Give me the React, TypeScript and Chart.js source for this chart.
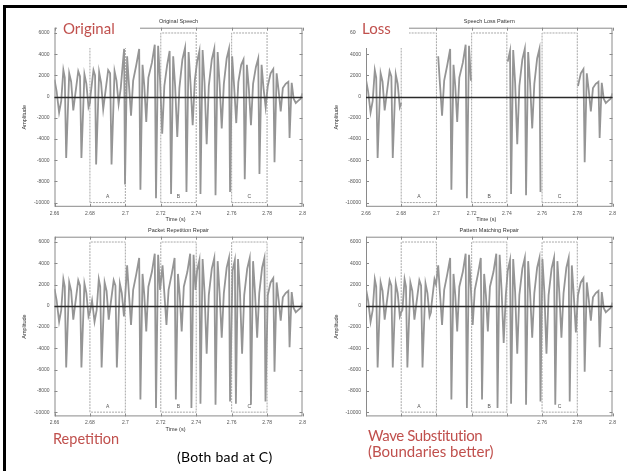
import React, { useEffect, useRef } from "react";
import { Chart, registerables } from "chart.js";
Chart.register(...registerables);

// ---------- data ----------
const xTickValues = [2.66, 2.68, 2.7, 2.72, 2.74, 2.76, 2.78, 2.8];
const xTickLabels = ["2.66", "2.68", "2.7", "2.72", "2.74", "2.76", "2.78", "2.8"];
const yTickValues = [-10000, -8000, -6000, -4000, -2000, 0, 2000, 4000, 6000];
const yTickLabels = ["-10000", "-8000", "-6000", "-4000", "-2000", "0", "2000", "4000", "6000"];

const waveTime = [
  2.66, 2.6612, 2.6626, 2.6638, 2.665, 2.6658,
  2.6666, 2.6683, 2.6694, 2.6706, 2.6718, 2.6734, 2.6744,
  2.6752, 2.6769, 2.678, 2.6792, 2.68, 2.6804, 2.682, 2.6829,
  2.6835, 2.6852, 2.6863, 2.6875, 2.6887, 2.6903, 2.6914,
  2.6922, 2.6939, 2.695, 2.6962, 2.6974, 2.6985, 2.6993,
  2.6998, 2.701, 2.702, 2.7032, 2.7044, 2.7062, 2.7078,
  2.7085, 2.7097, 2.7107, 2.7118, 2.713, 2.715, 2.7166,
  2.7173, 2.7185, 2.7196, 2.7208, 2.722, 2.7236, 2.725,
  2.7258, 2.727, 2.7281, 2.7293, 2.7305, 2.7322, 2.7337,
  2.7345, 2.7357, 2.7368, 2.738, 2.7392, 2.7405, 2.7418,
  2.7424, 2.7436, 2.7447, 2.7459, 2.7471, 2.7488, 2.7502,
  2.7509, 2.7521, 2.7532, 2.7544, 2.7556, 2.7572, 2.7585,
  2.7591, 2.7603, 2.7614, 2.7626, 2.7638, 2.7654, 2.7667,
  2.7674, 2.7686, 2.7697, 2.7709, 2.7721, 2.7737, 2.775,
  2.7757, 2.7769, 2.778, 2.7792, 2.7804, 2.782, 2.7835,
  2.7842, 2.7854, 2.7865, 2.7877, 2.7889, 2.7905, 2.792,
  2.7927, 2.7939, 2.795, 2.7962, 2.7975, 2.799, 2.8,
];
const waveAmp = [
  1600, 500, -1500, -400, 2500, 1800,
  -5800, 2200, 1400, -1300, 300, 2400, 1900,
  -5800, 2100, 1200, -1000, -600, 200, 2500, 2000,
  -6400, 2300, 1300, -1200, 400, 2500, 2200,
  -6400, 2400, 1500, -700, 800, 3000, 4500,
  -8300, 3800, 1200, -1800, 1500, 3000, 4500,
  -8800, 3000, 1000, -2400, 1800, 3200, 4900,
  -9600, 4800, 1500, -3500, 1000, 3000, 4300,
  -9200, 3800, 1000, -3800, 800, 3500, 4600,
  -9000, 4200, 1200, -2700, 1500, 3300, 4300,
  -9200, 4400, 1300, -4500, 1000, 3500, 4500,
  -9300, 4200, 1200, -3000, 1200, 3600, 4500,
  -9000, 3800, 1000, -2500, 1400, 3000, 3500,
  -7800, 3000, 800, -2700, 1200, 2800, 3600,
  -7300, 3000, 800, -1000, 1000, 2200, 2600,
  -6200, 2200, 600, -1400, 800, 1200, 1400,
  -3900, 1300, -200, -600, -400, -200, 300,
];

const lossStarts = [2.68, 2.72, 2.76];
const lossEnds = [2.7, 2.74, 2.78];
const lossLabels = ["A", "B", "C"];
const boxTop = 6000;
const boxBottom = -10000;
const boxLabelLevel = -9450;

const repetitionShifts = [0.02, 0.02, 0.02];
const patternShifts = [0.0169, 0.0174, 0.0166];

const panelTitles = ["Original Speech", "Speech Loss Pattern", "Packet Repetition Repair", "Pattern Matching Repair"];

// ---------- series building ----------
type Pt = { x: number; y: number | null };

function gapIndex(t: number) {
  for (let i = 0; i < lossStarts.length; i++) if (t > lossStarts[i] && t < lossEnds[i]) return i;
  return -1;
}
const originalSeries: Pt[] = waveTime.map((t, i) => ({ x: t, y: waveAmp[i] }));

function lossSeries(): Pt[] {
  const out: Pt[] = [];
  const marked = new Set<number>();
  originalSeries.forEach((p) => {
    const g = gapIndex(p.x);
    if (g < 0) out.push(p);
    else if (!marked.has(g)) {
      marked.add(g);
      out.push({ x: (lossStarts[g] + lossEnds[g]) / 2, y: null });
    }
  });
  return out;
}

function repairedSeries(shifts: number[]): Pt[] {
  const out: Pt[] = originalSeries.filter((p) => gapIndex(p.x) < 0);
  lossStarts.forEach((s, g) => {
    const e = lossEnds[g];
    const sh = shifts[g];
    originalSeries.forEach((p) => {
      const nx = p.x + sh;
      if (nx > s && nx < e) out.push({ x: nx, y: p.y });
    });
  });
  return out.sort((a, b) => a.x - b.x);
}

// ---------- panel ----------
const SMALL = '"Liberation Sans", Arial, sans-serif';

type Frame = { left: number; top: number; width: number; height: number };
type Plot = { left: number; right: number; top: number; bottom: number };

function Panel({ series, title, frame, plot }: { series: Pt[]; title: string; frame: Frame; plot: Plot }) {
  const ref = useRef<HTMLCanvasElement>(null);
  useEffect(() => {
    const yW = plot.left - frame.left;
    const padRight = frame.left + frame.width - plot.right;
    const padTop = plot.top - frame.top;
    const xH = frame.top + frame.height - plot.bottom;

    const boxDatasets = lossStarts.map((s, i) => ({
      type: "line" as const,
      data: [
        { x: s, y: boxBottom },
        { x: s, y: boxTop },
        { x: lossEnds[i], y: boxTop },
        { x: lossEnds[i], y: boxBottom },
        { x: s, y: boxBottom },
      ],
      borderColor: "#a8a8a8",
      borderWidth: 1,
      borderDash: [2, 1],
      pointRadius: 0,
      fill: false,
      order: 2,
    }));

    const deco = {
      id: "deco",
      beforeDatasetsDraw(chart: any) {
        const { ctx, chartArea: a, scales } = chart;
        const xs = scales.x, ys = scales.y;
        ctx.save();
        ctx.strokeStyle = "#8a8a8a";
        ctx.lineWidth = 1;
        ctx.strokeRect(a.left + 0.5, a.top + 0.5, a.right - a.left - 1, a.bottom - a.top - 1);
        ctx.beginPath();
        xTickValues.forEach((v) => {
          const px = Math.round(xs.getPixelForValue(v)) + 0.5;
          ctx.moveTo(px, a.bottom); ctx.lineTo(px, a.bottom - 3);
          ctx.moveTo(px, a.top); ctx.lineTo(px, a.top + 3);
        });
        yTickValues.forEach((v) => {
          const py = Math.round(ys.getPixelForValue(v)) + 0.5;
          ctx.moveTo(a.left, py); ctx.lineTo(a.left + 3, py);
          ctx.moveTo(a.right, py); ctx.lineTo(a.right - 3, py);
        });
        ctx.stroke();
        ctx.restore();
      },
      afterDatasetsDraw(chart: any) {
        const { ctx, chartArea: a, scales } = chart;
        const xs = scales.x, ys = scales.y;
        ctx.save();
        const y0 = Math.round(ys.getPixelForValue(0)) + 0.5;
        ctx.strokeStyle = "#2a2a2a";
        ctx.lineWidth = 1.5;
        ctx.beginPath();
        ctx.moveTo(a.left, y0);
        ctx.lineTo(a.right, y0);
        ctx.stroke();
        ctx.fillStyle = "#555";
        ctx.font = `5px ${SMALL}`;
        ctx.textAlign = "center";
        ctx.textBaseline = "middle";
        lossLabels.forEach((lab, i) => {
          const cx = xs.getPixelForValue((lossStarts[i] + lossEnds[i]) / 2);
          ctx.fillText(lab, cx, ys.getPixelForValue(boxLabelLevel));
        });
        const cx = (a.left + a.right) / 2;
        ctx.fillStyle = "#333";
        ctx.font = `5.5px ${SMALL}`;
        ctx.fillText(title, cx, a.top - 6.5);
        ctx.fillText("Time (s)", cx - 3, a.bottom + 12.8);
        ctx.translate(a.left - 30, (a.top + a.bottom) / 2);
        ctx.rotate(-Math.PI / 2);
        ctx.fillText("Amplitude", 0, 0);
        ctx.restore();
      },
    };

    const chart = new Chart(ref.current as HTMLCanvasElement, {
      type: "line",
      data: {
        datasets: [
          {
            data: series as any,
            borderColor: "#959595",
            borderWidth: 1.8,
            pointRadius: 0,
            tension: 0,
            fill: false,
            spanGaps: false,
            order: 1,
          },
          ...(boxDatasets as any),
        ],
      },
      options: {
        animation: false,
        responsive: false,
        events: [],
        layout: { padding: { top: padTop, right: padRight, left: 0, bottom: 0 } },
        plugins: { legend: { display: false }, tooltip: { enabled: false }, title: { display: false } },
        scales: {
          x: {
            type: "linear",
            min: 2.66,
            max: 2.8,
            grid: { display: false, drawTicks: false },
            border: { display: false },
            afterBuildTicks: (s: any) => {
              s.ticks = xTickValues.map((v) => ({ value: v }));
            },
            afterFit: (s: any) => {
              s.height = xH;
              s.paddingLeft = 0;
              s.paddingRight = 0;
            },
            ticks: {
              autoSkip: false,
              maxRotation: 0,
              padding: 3.5,
              color: "#555",
              font: { size: 5, family: SMALL },
              callback: (_v: any, i: number) => xTickLabels[i],
            },
          },
          y: {
            type: "linear",
            min: -10400,
            max: 6500,
            grid: { display: false, drawTicks: false },
            border: { display: false },
            afterBuildTicks: (s: any) => {
              s.ticks = yTickValues.map((v) => ({ value: v }));
            },
            afterFit: (s: any) => {
              s.width = yW;
              s.paddingTop = 0;
              s.paddingBottom = 0;
            },
            ticks: {
              autoSkip: false,
              padding: 5,
              color: "#555",
              font: { size: 5, family: SMALL },
              callback: (_v: any, i: number) => yTickLabels[i],
            },
          },
        },
      } as any,
      plugins: [deco],
    });
    return () => chart.destroy();
  }, []);
  return (
    <canvas
      ref={ref}
      width={frame.width}
      height={frame.height}
      style={{ position: "absolute", left: frame.left, top: frame.top, width: frame.width, height: frame.height, display: "block" }}
    />
  );
}

const labelFont = 'Lato, "Open Sans", sans-serif';

function Label({ text, left, top, size, color, spacing }: { text: string; left: number; top: number; size: number; color: string; spacing?: number }) {
  return (
    <div
      style={{
        position: "absolute",
        left,
        top,
        fontFamily: labelFont,
        fontSize: size,
        lineHeight: `${size}px`,
        letterSpacing: spacing ? `${spacing}px` : undefined,
        color,
        whiteSpace: "nowrap",
      }}
    >
      {text}
    </div>
  );
}

function WhiteBox({ left, top, width, height }: Frame) {
  return <div style={{ position: "absolute", left, top, width, height, background: "#fff" }} />;
}

export default function App() {
  const red = "#c0504d";
  return (
    <div style={{ position: "absolute", left: 0, top: 0, width: 627, height: 471, background: "#fff", overflow: "hidden" }}>
      <Panel series={originalSeries} title={panelTitles[0]} frame={{ left: 0, top: 10, width: 312, height: 216 }} plot={{ left: 54.5, right: 302.5, top: 27.7, bottom: 206.8 }} />
      <Panel series={lossSeries()} title={panelTitles[1]} frame={{ left: 312, top: 10, width: 315, height: 216 }} plot={{ left: 366, right: 612.5, top: 27.7, bottom: 206.8 }} />
      <Panel series={repairedSeries(repetitionShifts)} title={panelTitles[2]} frame={{ left: 0, top: 226, width: 312, height: 210 }} plot={{ left: 54.5, right: 302.5, top: 236.7, bottom: 416.4 }} />
      <Panel series={repairedSeries(patternShifts)} title={panelTitles[3]} frame={{ left: 312, top: 226, width: 315, height: 210 }} plot={{ left: 366, right: 612.5, top: 236.7, bottom: 416.4 }} />

      <div style={{ position: "absolute", left: 3, top: 5, width: 3, height: 466, background: "#000" }} />
      <div style={{ position: "absolute", left: 3, top: 5, width: 624, height: 3, background: "#000" }} />

      <WhiteBox left={57} top={12} width={83} height={36} />
      <Label text="Original" left={63} top={20.5} size={15} color={red} />
      <WhiteBox left={356} top={12} width={53} height={36} />
      <Label text="Loss" left={362} top={21} size={15} color={red} />
      <Label text="Repetition" left={53} top={431.5} size={14.5} color={red} />
      <Label text="(Both bad at C)" left={177} top={450} size={14} color="#000" spacing={0.25} />
      <WhiteBox left={358} top={418.5} width={170} height={52} />
      <Label text="Wave Substitution" left={368} top={427.5} size={15} color={red} spacing={-0.4} />
      <Label text="(Boundaries better)" left={368} top={444} size={15} color={red} />
    </div>
  );
}
